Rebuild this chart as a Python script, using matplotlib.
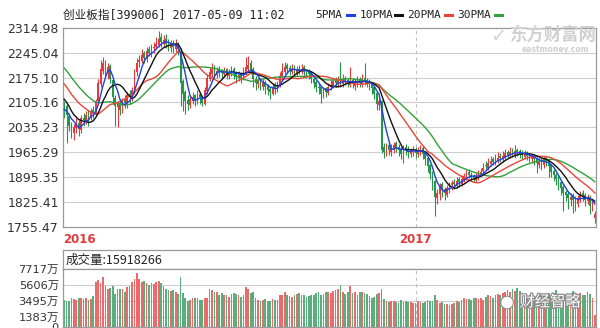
import numpy as np
import pandas as pd
import matplotlib
matplotlib.use("Agg")
import matplotlib.pyplot as plt
import matplotlib.patheffects as pe
from matplotlib.lines import Line2D

# ---------------- data ----------------
title = "创业板指[399006] 2017-05-09 11:02"
vol_header = "成交量:15918266"
price_ticks = [2314.98, 2245.04, 2175.10, 2105.16, 2035.23, 1965.29, 1895.35, 1825.41, 1755.47]
vol_ticks = [7717, 5606, 3495, 1383, 0]
vol_tick_labels = ["7717万", "5606万", "3495万", "1383万", "0"]
year_labels = ["2016", "2017"]
year_start = [0, 145]
ma_periods = [5, 10, 20, 30]
ma_names = ["5PMA", "10PMA", "20PMA", "30PMA"]

# closes before the visible window (only used to warm up the moving averages)
pre_close = [2300, 2310, 2295, 2320, 2305, 2290, 2300, 2280, 2270, 2285,
             2260, 2240, 2250, 2220, 2200, 2210, 2190, 2180, 2170, 2160,
             2175, 2160, 2150, 2155, 2140, 2110, 2100, 2085, 2080, 2070]

close = [
    2095, 2070, 2040, 2020, 2035, 2045, 2030, 2060, 2055, 2070,
    2065, 2080, 2075, 2110, 2160, 2200, 2215, 2190, 2205, 2170,
    2120, 2095, 2100, 2085, 2110, 2105, 2125, 2120, 2140, 2195,
    2215, 2225, 2240, 2230, 2250, 2245, 2255, 2260, 2270, 2285,
    2275, 2280, 2270, 2262, 2268, 2260, 2270, 2255, 2160, 2130,
    2110, 2100, 2115, 2120, 2110, 2125, 2120, 2105, 2140, 2175,
    2190, 2200, 2185, 2195, 2190, 2188, 2195, 2185, 2190, 2195,
    2185, 2178, 2183, 2175, 2190, 2205, 2210, 2195, 2170, 2160,
    2165, 2155, 2160, 2150, 2140, 2135, 2150, 2145, 2155, 2180,
    2195, 2205, 2200, 2195, 2200, 2190, 2198, 2195, 2200, 2192,
    2188, 2185, 2170, 2160, 2150, 2145, 2130, 2140, 2135, 2150,
    2155, 2165, 2160, 2165, 2160, 2170, 2165, 2160, 2165, 2158,
    2162, 2168, 2160, 2170, 2165, 2160, 2155, 2145, 2130, 2100,
    2108, 1972, 1965, 1980, 1970, 1975, 1985, 1978, 1970, 1960,
    1975, 1970, 1965, 1968, 1972, 1964, 1970, 1975, 1960, 1945,
    1925, 1905, 1880, 1840, 1850, 1870, 1860, 1850, 1865, 1870,
    1878, 1875, 1885, 1880, 1890, 1898, 1905, 1900, 1895, 1892,
    1898, 1905, 1910, 1920, 1925, 1935, 1940, 1938, 1945, 1950,
    1948, 1955, 1962, 1958, 1965, 1962, 1968, 1965, 1960, 1958,
    1962, 1955, 1950, 1952, 1945, 1935, 1940, 1930, 1945, 1938,
    1925, 1910, 1900, 1890, 1875, 1865, 1850, 1845, 1835, 1840,
    1830, 1825, 1835, 1845, 1840, 1832, 1838, 1815, 1822, 1790]

open_ = [
    2100, 2095, 2068, 2042, 2018, 2032, 2048, 2028, 2062, 2052,
    2072, 2062, 2085, 2072, 2108, 2158, 2195, 2218, 2188, 2208,
    2168, 2118, 2092, 2103, 2083, 2112, 2100, 2128, 2118, 2138,
    2190, 2218, 2222, 2245, 2228, 2255, 2240, 2258, 2262, 2268,
    2290, 2270, 2285, 2272, 2258, 2272, 2255, 2268, 2250, 2165,
    2135, 2112, 2098, 2110, 2125, 2108, 2128, 2118, 2102, 2138,
    2172, 2185, 2205, 2182, 2198, 2192, 2185, 2198, 2180, 2188,
    2198, 2188, 2175, 2185, 2172, 2188, 2200, 2215, 2198, 2172,
    2158, 2168, 2150, 2162, 2152, 2142, 2130, 2155, 2140, 2152,
    2178, 2192, 2210, 2202, 2192, 2205, 2188, 2200, 2192, 2205,
    2190, 2192, 2188, 2172, 2162, 2148, 2150, 2125, 2145, 2132,
    2148, 2152, 2170, 2158, 2170, 2158, 2172, 2168, 2155, 2168,
    2152, 2160, 2172, 2158, 2175, 2168, 2162, 2158, 2148, 2132,
    2098, 2110, 1980, 1960, 1985, 1965, 1970, 1990, 1980, 1975,
    1955, 1980, 1975, 1960, 1965, 1975, 1960, 1965, 1978, 1962,
    1948, 1928, 1910, 1885, 1835, 1848, 1875, 1862, 1845, 1860,
    1872, 1882, 1870, 1890, 1875, 1888, 1895, 1910, 1902, 1898,
    1888, 1895, 1900, 1912, 1930, 1922, 1932, 1945, 1935, 1940,
    1955, 1945, 1950, 1965, 1955, 1970, 1958, 1972, 1968, 1962,
    1952, 1965, 1958, 1945, 1955, 1948, 1930, 1945, 1928, 1950,
    1940, 1928, 1912, 1902, 1895, 1880, 1868, 1852, 1848, 1830,
    1845, 1835, 1820, 1832, 1850, 1845, 1828, 1840, 1812, 1780]

high = [
    2110, 2100, 2075, 2050, 2045, 2060, 2055, 2070, 2075, 2080,
    2085, 2090, 2095, 2115, 2170, 2225, 2232, 2225, 2215, 2212,
    2172, 2125, 2110, 2112, 2118, 2125, 2135, 2140, 2150, 2200,
    2230, 2240, 2255, 2250, 2262, 2265, 2270, 2275, 2290, 2305,
    2300, 2295, 2298, 2285, 2280, 2282, 2285, 2275, 2258, 2170,
    2140, 2125, 2125, 2135, 2130, 2140, 2135, 2125, 2150, 2185,
    2205, 2215, 2210, 2205, 2208, 2200, 2205, 2202, 2200, 2208,
    2205, 2195, 2195, 2190, 2205, 2232, 2235, 2225, 2205, 2180,
    2175, 2175, 2170, 2168, 2158, 2150, 2160, 2162, 2165, 2190,
    2215, 2218, 2215, 2210, 2212, 2210, 2208, 2210, 2212, 2210,
    2200, 2198, 2195, 2178, 2168, 2160, 2155, 2150, 2150, 2160,
    2168, 2175, 2178, 2180, 2220, 2185, 2180, 2175, 2205, 2175,
    2172, 2180, 2178, 2185, 2215, 2175, 2170, 2162, 2152, 2135,
    2118, 2112, 1990, 1992, 1995, 1988, 1995, 1998, 1988, 1980,
    1985, 1988, 1982, 1978, 1982, 1980, 1980, 1985, 1982, 1968,
    1952, 1932, 1912, 1888, 1862, 1878, 1880, 1868, 1872, 1880,
    1888, 1890, 1895, 1895, 1900, 1908, 1915, 1918, 1910, 1905,
    1908, 1915, 1920, 1935, 1940, 1948, 1955, 1952, 1960, 1965,
    1962, 1968, 1975, 1972, 1980, 1978, 1985, 1978, 1975, 1970,
    1972, 1968, 1962, 1960, 1958, 1952, 1950, 1948, 1955, 1955,
    1942, 1932, 1918, 1908, 1898, 1885, 1872, 1860, 1855, 1850,
    1850, 1842, 1845, 1855, 1858, 1850, 1848, 1845, 1832, 1800]

low = [
    2060, 1990, 2025, 2005, 2000, 2020, 2010, 2020, 2040, 2045,
    2040, 2055, 2060, 2068, 2100, 2150, 2185, 2180, 2170, 2160,
    2100, 2040, 2035, 2070, 2075, 2090, 2090, 2100, 2110, 2130,
    2180, 2205, 2215, 2215, 2220, 2235, 2232, 2245, 2255, 2260,
    2262, 2262, 2258, 2250, 2248, 2245, 2248, 2240, 2095, 2080,
    2072, 2085, 2090, 2100, 2095, 2100, 2100, 2095, 2098, 2130,
    2165, 2178, 2170, 2175, 2178, 2175, 2178, 2172, 2170, 2180,
    2170, 2160, 2165, 2160, 2168, 2182, 2195, 2185, 2150, 2140,
    2145, 2140, 2140, 2130, 2125, 2115, 2125, 2130, 2135, 2148,
    2172, 2185, 2188, 2182, 2185, 2178, 2180, 2185, 2185, 2180,
    2175, 2170, 2160, 2145, 2135, 2130, 2103, 2118, 2120, 2125,
    2140, 2145, 2150, 2150, 2150, 2150, 2155, 2148, 2150, 2145,
    2140, 2150, 2148, 2150, 2155, 2148, 2140, 2130, 2115, 2085,
    2085, 1962, 1950, 1955, 1958, 1955, 1962, 1965, 1955, 1945,
    1934, 1958, 1950, 1952, 1955, 1950, 1952, 1958, 1945, 1930,
    1910, 1890, 1860, 1785, 1820, 1830, 1840, 1832, 1838, 1850,
    1860, 1862, 1865, 1868, 1870, 1880, 1888, 1892, 1885, 1882,
    1880, 1888, 1895, 1905, 1915, 1915, 1925, 1928, 1930, 1935,
    1938, 1938, 1945, 1948, 1950, 1952, 1950, 1955, 1950, 1945,
    1945, 1942, 1938, 1935, 1930, 1906, 1920, 1915, 1920, 1925,
    1895, 1895, 1885, 1872, 1860, 1845, 1800, 1828, 1805, 1815,
    1795, 1800, 1810, 1825, 1828, 1815, 1820, 1790, 1800, 1765]

volume = [  # 万 shares
    3600, 3500, 3450, 3900, 3700, 3650, 3800, 3900, 3750, 3850,
    3600, 3700, 4100, 6000, 6200, 5800, 6700, 5500, 5000, 5200,
    5500, 4400, 5000, 5100, 5100, 4700, 5300, 5500, 6000, 6400,
    7200, 6400, 6000, 6100, 5800, 5600, 5900, 5700, 6000, 6100,
    5900, 5400, 5000, 4900, 4800, 4900, 4700, 4400, 6600, 4500,
    3900, 3500, 3600, 3800, 3900, 3800, 3600, 3550, 3900, 3800,
    5100, 4900, 4600, 4700, 4300, 4500, 4200, 4300, 4000, 4400,
    4500, 4400, 4300, 4000, 4200, 5300, 5100, 4500, 4600, 3900,
    3600, 3500, 3600, 3700, 3500, 3400, 3700, 3600, 3550, 4300,
    4200, 4700, 4300, 4100, 4000, 4200, 4400, 4500, 4200, 4300,
    4000, 4100, 4300, 4200, 4500, 4700, 4300, 4400, 4600, 4700,
    4500, 4800, 4900, 5000, 5600, 4600, 4400, 4700, 5400, 4500,
    4600, 4300, 4600, 4700, 4500, 4400, 4100, 3900, 4000, 4400,
    4500, 5100, 3700, 3400, 3300, 3500, 3400, 3300, 3200, 3600,
    3300, 3400, 3300, 3300, 3200, 3200, 3400, 3300, 3200, 3300,
    3600, 3500, 3400, 4300, 3600, 3200, 3300, 3100, 3000, 2900,
    3100, 3200, 3400, 3300, 3600, 3800, 3700, 3700, 3600, 3800,
    3900, 3700, 3800, 3600, 4000, 4200, 4100, 3900, 4200, 4400,
    4300, 4500, 4600, 4900, 4700, 5000, 4800, 5200, 4800, 4400,
    4300, 4000, 4200, 4100, 3500, 3600, 3900, 4200, 4400, 4300,
    4500, 4200, 4000, 4900, 4100, 4400, 4300, 4300, 4000, 4200,
    4800, 3900, 4100, 4500, 4300, 4200, 4600, 4400, 3900, 1592]

# ---------------- styling ----------------
W, H = 600, 328
RED, GREEN = "#e8383c", "#23964a"
VRED, VGREEN = "#ec6a6a", "#5aae7c"
MA_COLORS = ["#2040e0", "#111111", "#e8463a", "#33a03a"]
GRID = "#cfcfcf"
FRAME = "#9a9a9a"
MONO_CJK = ["DejaVu Sans Mono", "Noto Sans CJK SC"]
SANS_CJK = ["DejaVu Sans", "Noto Sans CJK SC"]

def fx(px):
    return px / W

def fy(py):
    return 1 - py / H

o = np.array(open_, float)
c = np.array(close, float)
h = np.array(high, float)
l = np.array(low, float)
v = np.array(volume, float)
n = len(c)
x = np.arange(n)
up = c >= o

full = pd.Series(pre_close + close, dtype=float)
mas = [full.rolling(p).mean().to_numpy()[len(pre_close):] for p in ma_periods]

fig = plt.figure(figsize=(W / 100, H / 100), dpi=100)
fig.patch.set_facecolor("white")

# ---------- price panel ----------
top_px, bot_px, left_px, right_px = 27.9, 226.7, 63, 596
ax = fig.add_axes([fx(left_px), fy(bot_px), fx(right_px - left_px), (bot_px - top_px) / H])
ax.set_xlim(-0.5, n - 0.5)
ax.set_ylim(price_ticks[-1], price_ticks[0])
ax.set_yticks(price_ticks)
ax.set_yticklabels([f"{t:.2f}" for t in price_ticks], fontsize=9, color="#333333")
ax.tick_params(axis="y", length=0, pad=3)
ax.set_xticks([])
for s in ax.spines.values():
    s.set_color(FRAME)
    s.set_linewidth(0.9)
for t in price_ticks[1:-1]:
    ax.axhline(t, color=GRID, lw=0.8, zorder=0)
ax.axvline(year_start[1], color="#c0c0c0", lw=0.8, ls=(0, (3, 3)), zorder=0)

cols = np.where(up, RED, GREEN)
ax.vlines(x, l, h, colors=cols, lw=0.8, zorder=2)
body_bottom = np.minimum(o, c)
body_h = np.maximum(np.abs(c - o), 1.5)
ax.bar(x, body_h, bottom=body_bottom, width=0.7, color=cols, lw=0, zorder=2)

for ma, col in zip(mas[::-1], MA_COLORS[::-1]):
    ax.plot(x, ma, color=col, lw=1.0, zorder=3)

# year labels
for lab, idx in zip(year_labels, year_start):
    ha = "left" if idx == 0 else "center"
    xx = idx - 0.5 if idx == 0 else idx
    ax.text(xx, -0.065, lab, transform=ax.get_xaxis_transform(), ha=ha, va="center",
            fontsize=8.5, color="#e03a3a", fontweight="bold")

# ---------- volume header ----------
axh = fig.add_axes([fx(left_px), fy(269), fx(right_px - left_px), 19 / H])
axh.set_xticks([]); axh.set_yticks([])
for s in axh.spines.values():
    s.set_color(FRAME); s.set_linewidth(0.9)
axh.text(0.004, 0.45, vol_header, transform=axh.transAxes, ha="left", va="center",
         fontsize=9, family=["Noto Sans CJK SC", "DejaVu Sans"], color="#222222")

# ---------- volume panel ----------
axv = fig.add_axes([fx(left_px), fy(327), fx(right_px - left_px), (327 - 269) / H])
axv.set_xlim(-0.5, n - 0.5)
axv.set_ylim(0, vol_ticks[0])
axv.set_yticks(vol_ticks)
axv.set_yticklabels(vol_tick_labels, fontsize=8.2, color="#333333", family=SANS_CJK)
axv.tick_params(axis="y", length=0, pad=3)
axv.set_xticks([])
for s in axv.spines.values():
    s.set_color(FRAME); s.set_linewidth(0.9)
for t in vol_ticks[1:-1]:
    axv.axhline(t, color=GRID, lw=0.8, zorder=0)
axv.axvline(year_start[1], color="#c0c0c0", lw=0.8, ls=(0, (3, 3)), zorder=0)
axv.bar(x, v, width=0.7, color=np.where(up, VRED, VGREEN), lw=0, zorder=2)

# ---------- title & legend ----------
fig.text(fx(63), fy(15), title, ha="left", va="center", fontsize=8.4, family=MONO_CJK, color="#222222")
leg_x = [315, 360, 407, 457]
dash_x = [347, 395, 445, 495]
for name, lx, dx, col in zip(ma_names, leg_x, dash_x, MA_COLORS):
    fig.text(fx(lx), fy(15), name, ha="left", va="center", fontsize=8.0, family="DejaVu Sans Mono", color="#222222")
    fig.add_artist(Line2D([fx(dx), fx(dx + 7)], [fy(15), fy(15)], color=col, lw=2.2, transform=fig.transFigure))

# ---------- watermarks ----------
fig.text(fx(553), fy(35), "东方财富网", ha="center", va="center", fontsize=12.5, family="Noto Sans CJK SC",
         color="#d0d0d0", fontweight="bold")
fig.text(fx(555), fy(50), "eastmoney.com", ha="center", va="center", fontsize=5.5, color="#cfcfcf",
         fontweight="bold")
fig.text(fx(498), fy(36), "✓", ha="center", va="center", fontsize=14, color="#d4d4d4", family="DejaVu Sans")
fig.text(fx(550), fy(302), "财经智略", ha="center", va="center", fontsize=11, family="Noto Sans CJK SC",
         color="white", path_effects=[pe.withStroke(linewidth=1.8, foreground="#8a8a8a")])
fig.text(fx(507), fy(302), "●", ha="center", va="center", fontsize=11, color="white", family="DejaVu Sans",
         path_effects=[pe.withStroke(linewidth=1.5, foreground="#8a8a8a")])

fig.savefig("out.png", dpi=100, facecolor="white")
